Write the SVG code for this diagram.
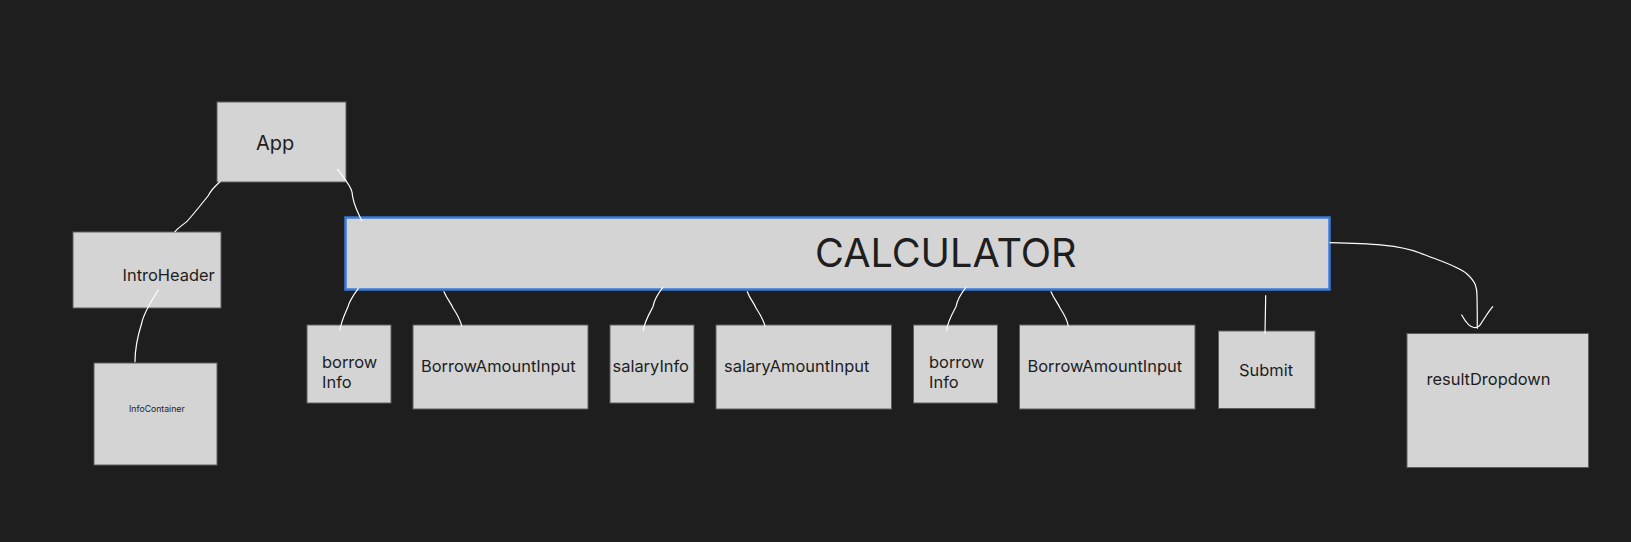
<svg xmlns="http://www.w3.org/2000/svg" width="1631" height="542" viewBox="0 0 1631 542">
<style>
.bg{fill:#1e1e1e}
.box{fill:#d4d4d4;stroke:#5e5e5e;stroke-width:1}
.calc{fill:#d4d4d4;stroke:#3b7ad9;stroke-width:2.5}
.t{font-family:Inter,"Noto Sans","Liberation Sans",sans-serif;fill:#1e1e1e;font-size:16.45px}
.link{fill:none;stroke:#ffffff;stroke-width:1.2;stroke-linecap:round}
</style>
<rect class="bg" x="0" y="0" width="1631" height="542"/>
<g id="App"><rect class="box" x="217" y="102" width="129" height="80"/><text class="t" x="256" y="150" style="font-size:20px">App</text></g>
<g id="IntroHeader"><rect class="box" x="73" y="232" width="148" height="76"/><text class="t" x="122.5" y="281">IntroHeader</text></g>
<g id="InfoContainer"><rect class="box" x="94" y="363" width="123" height="102"/><text class="t" x="129" y="412" style="font-size:8.7px">InfoContainer</text></g>
<g id="CALCULATOR"><rect class="calc" x="345.5" y="217.5" width="984" height="72"/><text class="t" x="815" y="267" style="font-size:39.6px">CALCULATOR</text></g>
<g id="borrowInfo1"><rect class="box" x="307" y="325" width="84" height="78"/><text class="t" x="322" y="367.5">borrow</text><text class="t" x="322" y="387.5">Info</text></g>
<g id="BorrowAmountInput1"><rect class="box" x="413" y="325" width="175" height="84"/><text class="t" x="421" y="371.5">BorrowAmountInput</text></g>
<g id="salaryInfo"><rect class="box" x="610" y="325" width="84" height="78"/><text class="t" x="612.5" y="371.5">salaryInfo</text></g>
<g id="salaryAmountInput"><rect class="box" x="716" y="325" width="175.5" height="84"/><text class="t" x="724" y="371.5">salaryAmountInput</text></g>
<g id="borrowInfo2"><rect class="box" x="913.5" y="325" width="84" height="78"/><text class="t" x="929" y="367.5">borrow</text><text class="t" x="929" y="387.5">Info</text></g>
<g id="BorrowAmountInput2"><rect class="box" x="1019.5" y="325" width="175.5" height="84"/><text class="t" x="1027.5" y="371.5">BorrowAmountInput</text></g>
<g id="Submit"><rect class="box" x="1218.5" y="331" width="96.5" height="77.5"/><text class="t" x="1239" y="375.5">Submit</text></g>
<g id="resultDropdown"><rect class="box" x="1407" y="333.5" width="181.5" height="134"/><text class="t" x="1426.5" y="385">resultDropdown</text></g>
<g id="connectors">
<path class="link" d="M220,181.7 C214,187 210,192 208,196 C200,206 192,216 186.7,221.7 C181,226 177,229 175,231.7"/>
<path class="link" d="M337.7,169.3 C344,178 351,186 352,192 C353,205 358,212 361.7,220.7"/>
<path class="link" d="M158.3,290 C150,303 143,316 141.7,323.3 C137,338 135,350 135,361.7"/>
<path class="link" d="M358.3,288.3 C352,297 349,302 348,306.7 C344,316 341,322 340,330"/>
<path class="link" d="M444,291.7 C447,299 451,303 453,308 C457,314 460,319 461.7,326"/>
<path class="link" d="M662.7,287.7 C657,295 654,301 653,306.7 C648,316 644,323 643.3,330.7"/>
<path class="link" d="M747.3,291.7 C750,299 754,303 756,308 C760,314 763,319 765,326"/>
<path class="link" d="M965.7,287.7 C960,295 957,301 956,306.7 C951,316 947,323 946.7,330.7"/>
<path class="link" d="M1051,291.7 C1054,299 1058,303 1060,308 C1064,314 1067,319 1068.3,326"/>
<path class="link" d="M1265.7,295.7 C1265.5,310 1265.2,322 1265,333.3"/>
<path class="link" d="M1330,242.7 C1370,243.5 1400,245 1420,253 C1440,261 1458,266 1467,274 C1476,282 1477,288 1477,296 C1477.3,310 1477.3,320 1477.3,328.3"/>
<path class="link" d="M1461.7,315 C1465,321 1469,327 1474,327.5 C1478,328 1480,326 1482,322 C1486,316 1489,311 1492.7,306.7"/>
</g>
</svg>
